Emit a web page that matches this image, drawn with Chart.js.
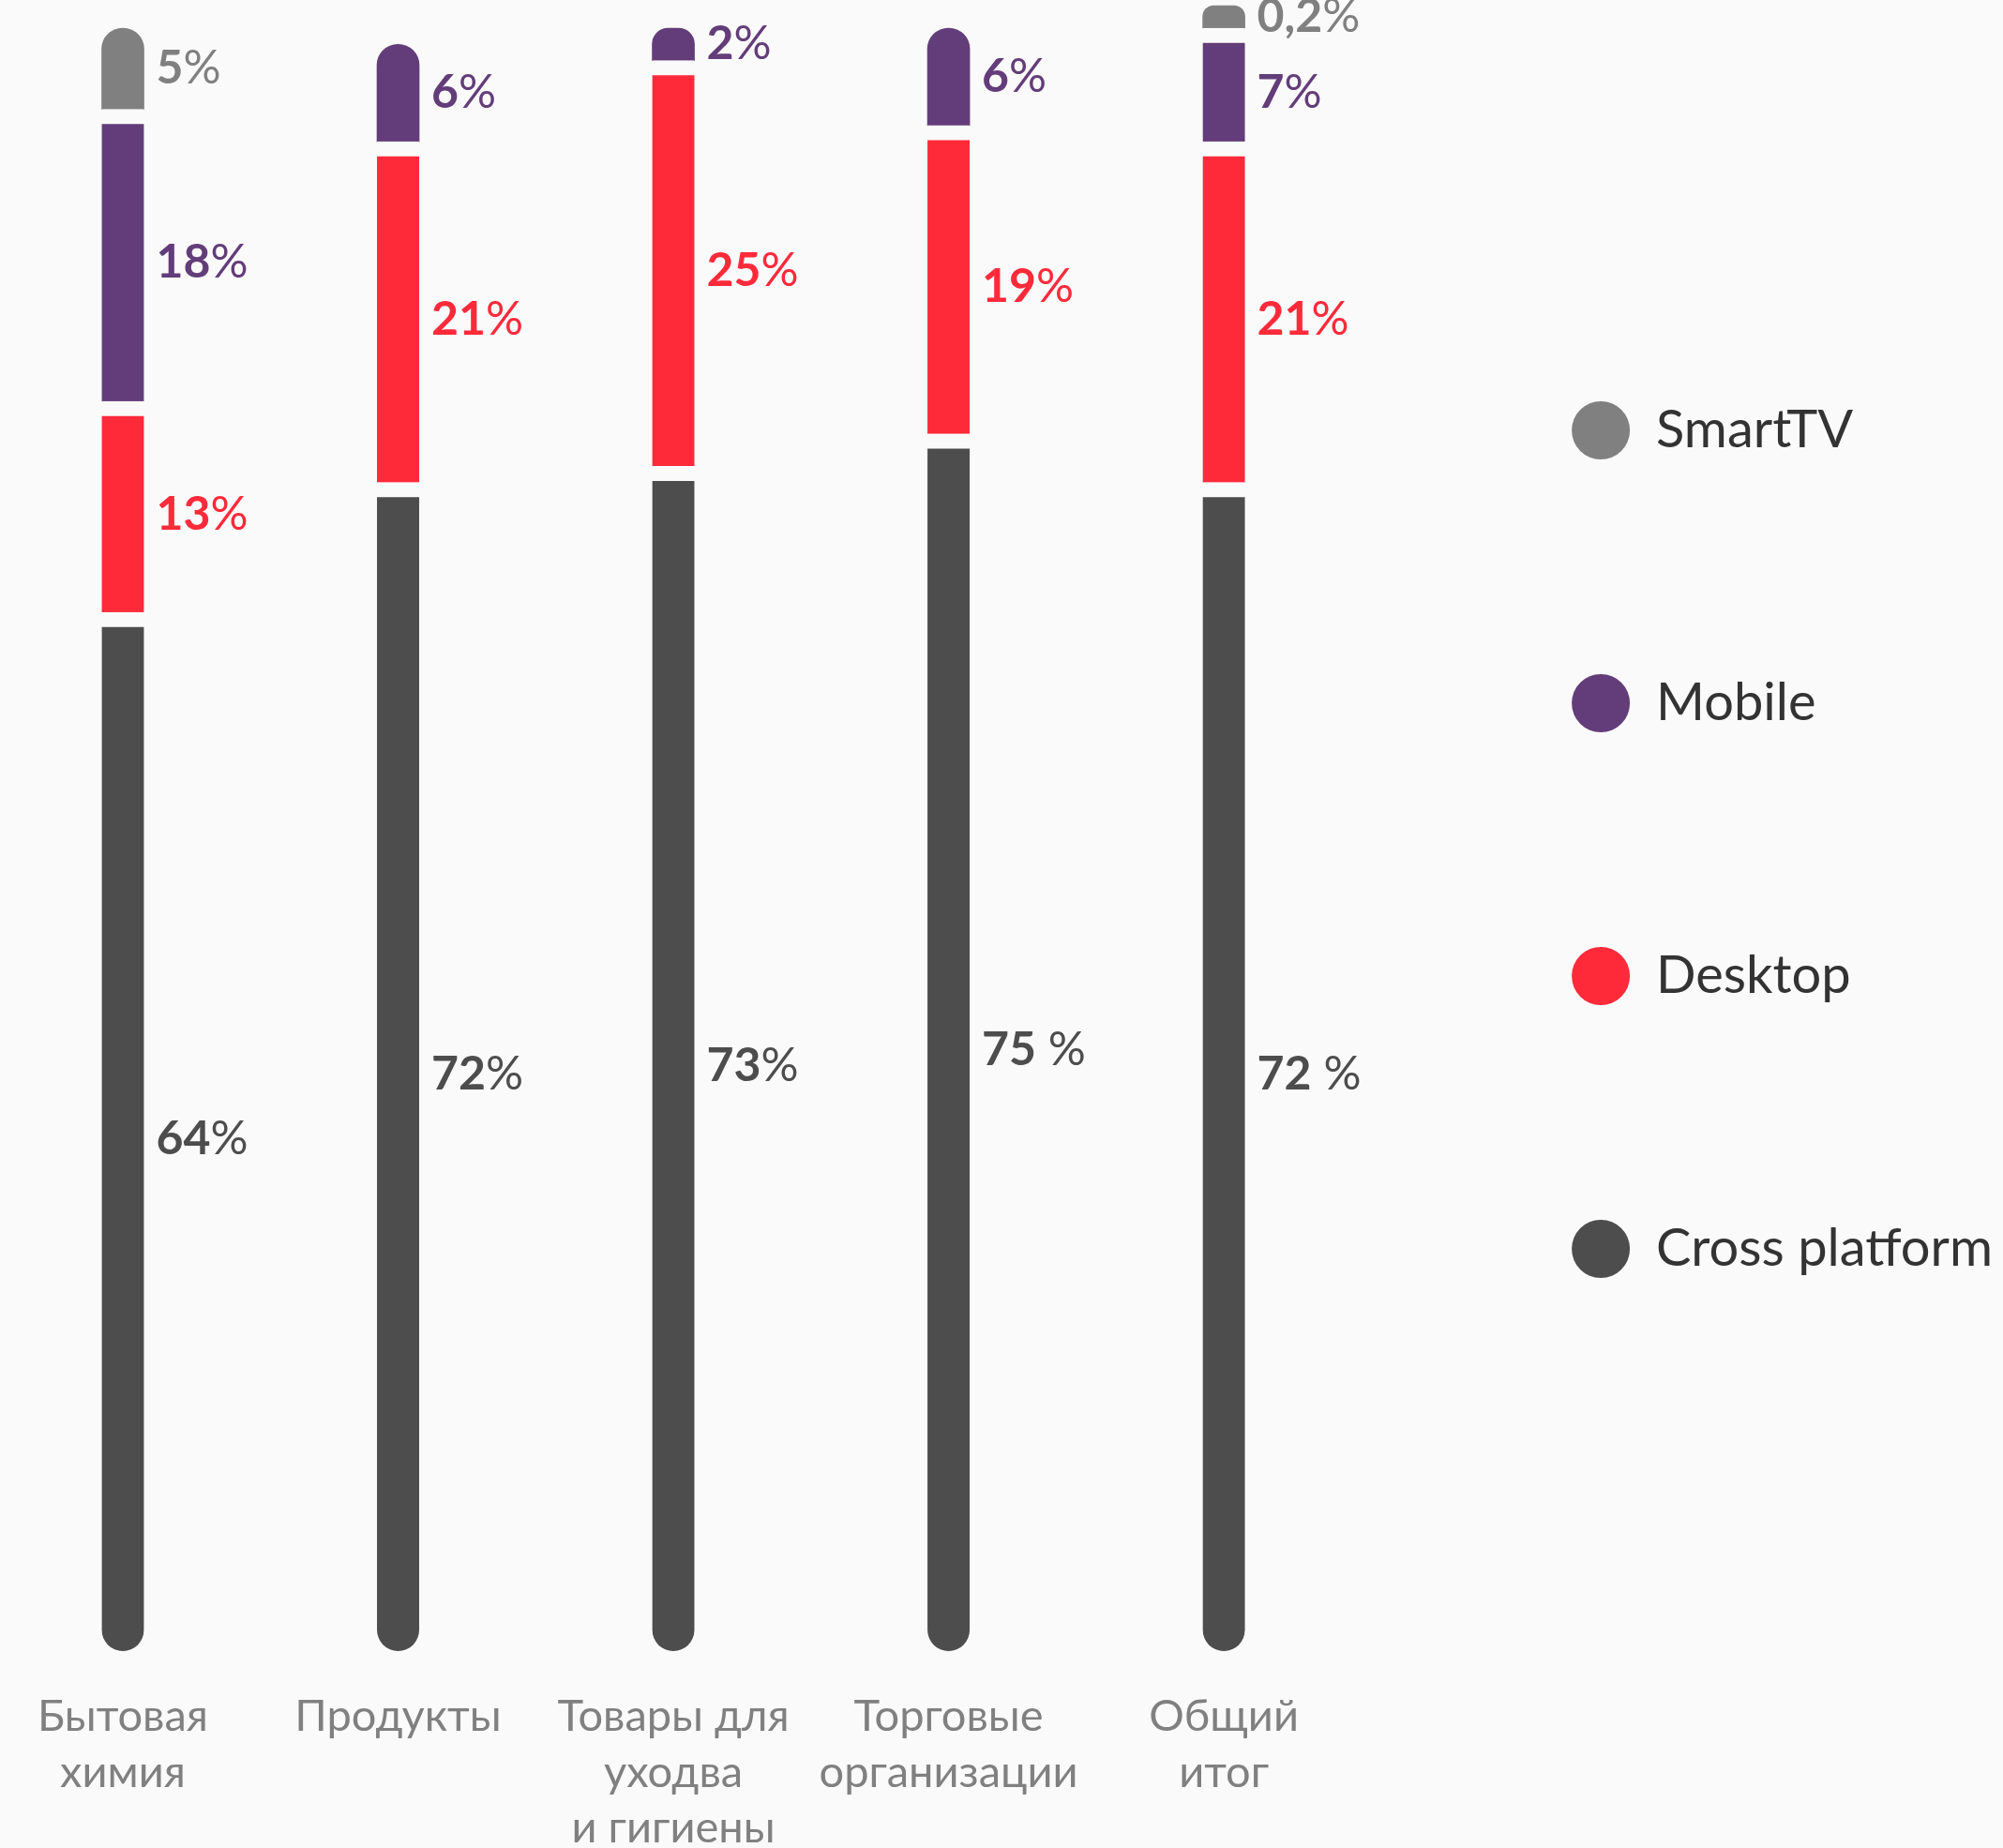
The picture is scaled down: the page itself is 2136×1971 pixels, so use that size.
<!DOCTYPE html>
<html lang="ru">
<head>
<meta charset="utf-8">
<title>Платформы по категориям</title>
<script src="https://cdn.jsdelivr.net/npm/chart.js@4.4.1/dist/chart.umd.min.js"></script>
<style>
  html, body { margin: 0; padding: 0; background: #fafafa; }
  #wrap { position: relative; width: 2136px; height: 1971px; }
</style>
</head>
<body>
<div id="wrap"><canvas id="platformChart"></canvas></div>
<script>
// categories (multi-line x labels)
const categories = [
    ['Бытовая', 'химия'],
    ['Продукты'],
    ['Товары для', 'уходва', 'и гигиены'],
    ['Торговые', 'организации'],
    ['Общий', 'итог']
];

// shares, %
const crossPlatform = [64, 72, 73, 75, 72];
const desktop = [13, 21, 25, 19, 21];
const mobile = [18, 6, 2, 6, 7];
const smartTV = [5, null, null, null, 0.2];

// labels as printed next to the bars
const crossText = ['64%', '72%', '73%', '75 %', '72 %'];
const desktopText = ['13%', '21%', '25%', '19%', '21%'];
const mobileText = ['18%', '6%', '2%', '6%', '7%'];
const smartTVText = ['5%', null, null, null, '0,2%'];

const FONT = 'Lato, "Noto Sans", sans-serif';
const BG = '#fafafa';
const GAP = 16;
const RADIUS = 23;

document.addEventListener("DOMContentLoaded", function () {
    const ctx = document.getElementById("platformChart");

    // dataset i is the top of stack j if nothing non-null sits above it
    function isTop(chart, i, j) {
        const sets = chart.data.datasets;
        for (let k = i + 1; k < sets.length; k++) {
            if (sets[k].data[j] != null) return false;
        }
        return true;
    }

    const valueLabels = {
        id: 'valueLabels',
        afterDatasetsDraw(chart) {
            const c = chart.ctx;
            c.save();
            c.textBaseline = 'middle';
            c.textAlign = 'left';
            chart.data.datasets.forEach((ds, i) => {
                const meta = chart.getDatasetMeta(i);
                meta.data.forEach((bar, j) => {
                    if (ds.data[j] == null) return;
                    const parts = ds.valueText[j].match(/^([\d,]+)(.*)$/);
                    const top = isTop(chart, i, j) ? bar.y : bar.y + GAP;
                    const y = (top + bar.base) / 2;
                    let x = bar.x + bar.width / 2 + 13;
                    c.fillStyle = ds.backgroundColor;
                    c.font = 'bold 50px ' + FONT;
                    c.fillText(parts[1], x, y);
                    x += c.measureText(parts[1]).width;
                    c.font = 'normal 50px ' + FONT;
                    c.fillText(parts[2], x, y);
                });
            });
            c.restore();
        }
    };

    const segment = {
        barThickness: 45,
        clip: false,
        borderSkipped: false,
        borderColor: BG,
        borderWidth: (c) => isTop(c.chart, c.datasetIndex, c.dataIndex)
            ? 0 : { top: GAP, right: 0, bottom: 0, left: 0 },
        borderRadius: (c) => {
            if (isTop(c.chart, c.datasetIndex, c.dataIndex)) {
                return { topLeft: RADIUS, topRight: RADIUS, bottomLeft: 0, bottomRight: 0 };
            }
            if (c.datasetIndex === 0) {
                return { topLeft: 0, topRight: 0, bottomLeft: RADIUS, bottomRight: RADIUS };
            }
            return 0;
        }
    };

    new Chart(ctx, {
        type: 'bar',
        data: {
            labels: categories,
            datasets: [
                { label: 'Cross platform', data: crossPlatform, valueText: crossText, backgroundColor: '#4d4d4d', ...segment },
                { label: 'Desktop', data: desktop, valueText: desktopText, backgroundColor: '#fe2a3a', ...segment },
                { label: 'Mobile', data: mobile, valueText: mobileText, backgroundColor: '#633d79', ...segment },
                { label: 'SmartTV', data: smartTV, valueText: smartTVText, backgroundColor: '#808080', minBarLength: 24, ...segment }
            ]
        },
        options: {
            responsive: true,
            maintainAspectRatio: false,
            animation: false,
            events: [],
            layout: {
                padding: { top: 30, left: 131, right: 1, bottom: 0 }
            },
            plugins: {
                tooltip: { enabled: false },
                legend: {
                    position: 'right',
                    fullSize: false,
                    reverse: true,
                    maxWidth: 760,
                    labels: {
                        usePointStyle: true,
                        pointStyle: 'circle',
                        pointStyleWidth: 62,
                        boxHeight: 44,
                        padding: 235,
                        color: '#333333',
                        font: { family: FONT, size: 56 },
                        generateLabels: (chart) => Chart.defaults.plugins.legend.labels
                            .generateLabels(chart).map(l => ({ ...l, lineWidth: 0 }))
                    }
                }
            },
            scales: {
                x: {
                    stacked: true,
                    offset: false,
                    grid: { display: false, drawTicks: false },
                    border: { display: false },
                    ticks: {
                        color: '#808080',
                        font: { family: FONT, size: 47, lineHeight: 1.27 },
                        padding: 40,
                        maxRotation: 0,
                        minRotation: 0,
                        autoSkip: false
                    },
                    afterFit: (scale) => { scale.height = 210; }
                },
                y: {
                    stacked: true,
                    position: 'right',
                    min: 0,
                    max: 100,
                    grid: { display: false, drawTicks: false },
                    border: { display: false },
                    ticks: { display: false },
                    afterFit: (scale) => { scale.width = 136; }
                }
            }
        },
        plugins: [valueLabels]
    });
});
</script>
</body>
</html>
